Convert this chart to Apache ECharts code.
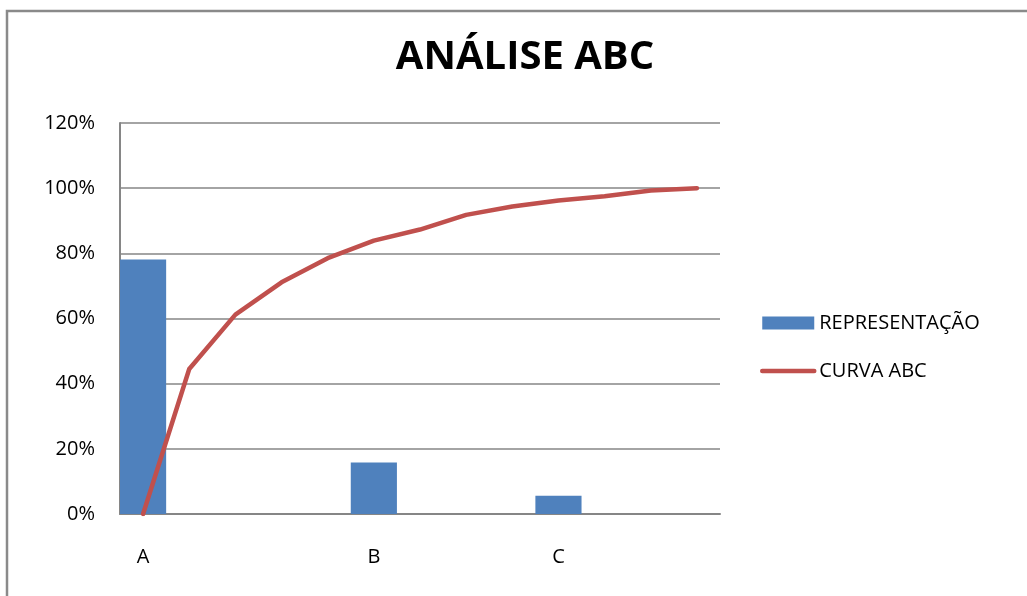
<!DOCTYPE html>
<html>
<head>
<meta charset="utf-8">
<script src="https://cdn.jsdelivr.net/npm/echarts@6/dist/echarts.min.js"></script>
<style>
  html, body { margin: 0; padding: 0; background: #fff; }
  #chart { width: 1027px; height: 596px; }
</style>
</head>
<body>
<div id="chart"></div>
<script>
// categorias (só algumas têm rótulo)
const categories = ['A', '', '', '', '', 'B', '', '', '', 'C', '', '', '']
// representação (%)
const representacao = [78.1, null, null, null, null, 15.8, null, null, null, 5.6, null, null, null]
// curva abc acumulada (%)
const curvaAbc = [0, 44.5, 61.2, 71.1, 78.5, 83.9, 87.3, 91.8, 94.4, 96.2, 97.5, 99.3, 100]

const font = '"Open Sans", "Liberation Sans", sans-serif'
const gridColor = '#868686'

let chart = echarts.init(document.getElementById('chart'))
chart.setOption({
  animation: false,
  backgroundColor: '#fff',
  graphic: [{
    type: 'rect',
    shape: { x: 7, y: 11, width: 1100, height: 700 },
    style: { fill: 'none', stroke: '#8a8a8a', lineWidth: 2.5 },
    silent: true
  }],
  title: {
    text: 'ANÁLISE ABC',
    left: 520,
    textAlign: 'center',
    top: 33,
    textStyle: { fontFamily: font, fontWeight: 'bold', fontSize: 40, color: '#000' }
  },
  legend: {
    left: 760,
    top: 313,
    padding: 0,
    orient: 'vertical',
    itemWidth: 52,
    itemHeight: 13,
    itemGap: 28,
    textStyle: { fontFamily: font, fontSize: 20, color: '#000', lineHeight: 20 },
    data: [
      { name: 'REPRESENTAÇÃO', icon: 'rect' },
      {
        name: 'CURVA ABC',
        lineStyle: { width: 4.5, cap: 'round' },
        itemStyle: { color: 'transparent', borderWidth: 0 }
      }
    ]
  },
  grid: { left: 120, right: 307, top: 123, bottom: 82 },
  xAxis: {
    type: 'category',
    data: categories,
    boundaryGap: true,
    axisLine: { lineStyle: { color: gridColor, width: 2 } },
    axisTick: { show: false },
    axisLabel: { interval: 0, margin: 33, fontFamily: font, fontSize: 20, color: '#000' }
  },
  yAxis: {
    type: 'value',
    min: 0,
    max: 120,
    interval: 20,
    axisLine: { show: true, lineStyle: { color: gridColor, width: 2 } },
    axisTick: { show: false },
    splitLine: { lineStyle: { color: gridColor, width: 1.5 } },
    axisLabel: { margin: 25, fontFamily: font, fontSize: 20, color: '#000', formatter: '{value}%' }
  },
  series: [
    {
      name: 'REPRESENTAÇÃO',
      type: 'bar',
      data: representacao,
      barWidth: '100%',
      itemStyle: { color: '#4F81BD' }
    },
    {
      name: 'CURVA ABC',
      type: 'line',
      data: curvaAbc,
      symbol: 'none',
      lineStyle: { color: '#C0504D', width: 4.5, cap: 'round', join: 'round' },
      itemStyle: { color: '#C0504D' }
    }
  ]
})
</script>
</body>
</html>
